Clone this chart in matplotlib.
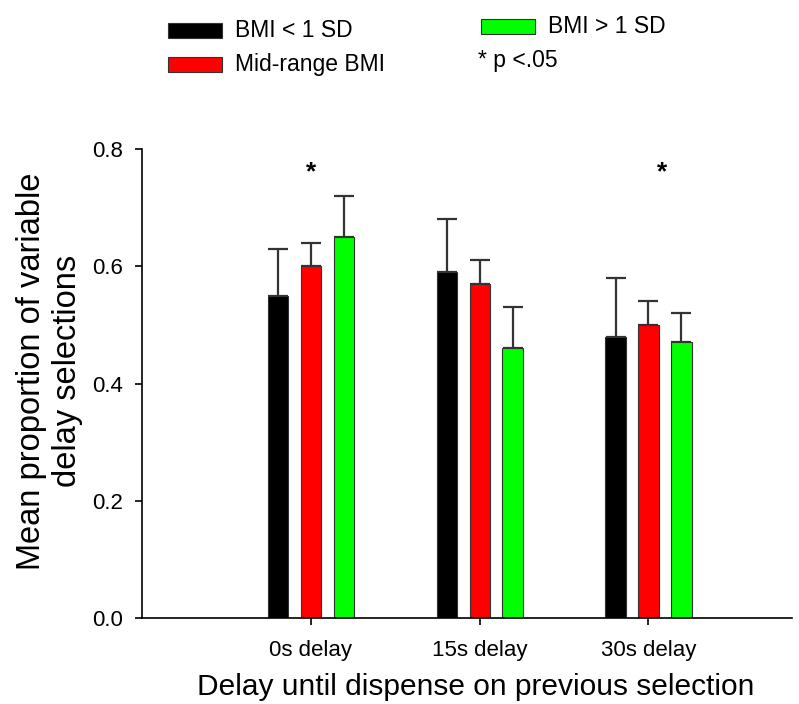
import matplotlib
matplotlib.use('Agg')
import matplotlib.pyplot as plt
import numpy as np

plt.rcParams['font.family'] = ['Liberation Sans', 'DejaVu Sans']

# Datos
categorias = ['0s delay', '15s delay', '30s delay']
grupos = ['BMI < 1 SD', 'Mid-range BMI', 'BMI > 1 SD']
medias = {
    'BMI < 1 SD': [0.55, 0.59, 0.48],
    'Mid-range BMI': [0.60, 0.57, 0.50],
    'BMI > 1 SD': [0.65, 0.46, 0.47],
}
errores = {
    'BMI < 1 SD': [0.08, 0.09, 0.10],
    'Mid-range BMI': [0.04, 0.04, 0.04],
    'BMI > 1 SD': [0.07, 0.07, 0.05],
}
colores = {'BMI < 1 SD': '#000000', 'Mid-range BMI': '#ff0000', 'BMI > 1 SD': '#00ff00'}
sig_x = [0.0, 2.08]
sig_y = [0.76, 0.76]

W, H = 799, 704
fig = plt.figure(figsize=(W / 100, H / 100), dpi=100)
ax = fig.add_axes([142 / W, 1 - 618 / H, 650 / W, 469 / H])

x = np.arange(len(categorias))
ancho = 0.12
paso = 0.195
for i, g in enumerate(grupos):
    pos = x + (i - 1) * paso
    ax.bar(pos, medias[g], width=ancho, color=colores[g], edgecolor='#333333', linewidth=0.8, zorder=2)
    ax.errorbar(pos, medias[g], yerr=[np.zeros(3), errores[g]], fmt='none',
                ecolor='#333333', elinewidth=1.6, capsize=7, capthick=1.6, zorder=1)

for sx, sy in zip(sig_x, sig_y):
    ax.text(sx, sy, '*', ha='center', va='center', fontsize=19, fontweight='bold')

ax.set_xlim(-1, 2.85)
ax.set_ylim(0, 0.8)
ax.set_xticks(x)
ax.set_xticklabels(categorias, fontsize=16)
ax.set_yticks([0.0, 0.2, 0.4, 0.6, 0.8])
ax.set_yticklabels(['0.0', '0.2', '0.4', '0.6', '0.8'], fontsize=16)
ax.tick_params(direction='out', length=5, width=1.2)
ax.tick_params(axis='x', pad=11)
ax.tick_params(axis='y', pad=9)
ax.spines['top'].set_visible(False)
ax.spines['right'].set_visible(False)
ax.spines['left'].set_linewidth(1.2)
ax.spines['bottom'].set_linewidth(1.2)
ax.set_xlabel('Delay until dispense on previous selection', fontsize=21.5)
ax.set_ylabel('Mean proportion of variable\ndelay selections', fontsize=23.5)
ax.xaxis.set_label_coords((476 - 142) / 650, (618 - 673) / 469)
ax.yaxis.set_label_coords((83 - 142) / 650, (618 - 371) / 469)

# Leyenda manual
leg = [(168, 23, 'BMI < 1 SD'), (168, 57, 'Mid-range BMI'), (481, 19, 'BMI > 1 SD')]
for px, py, g in leg:
    fig.patches.append(plt.Rectangle((px / W, 1 - (py + 15) / H), 54 / W, 15 / H,
                                     transform=fig.transFigure, facecolor=colores[g],
                                     edgecolor='#333333', linewidth=0.8))
    fig.text((px + 67) / W, 1 - (py + 14) / H, g, fontsize=16.5, va='baseline')
fig.text(478 / W, 1 - 67 / H, '* p <.05', fontsize=16.5, va='baseline')

plt.savefig('out.png', dpi=100)
plt.close()
